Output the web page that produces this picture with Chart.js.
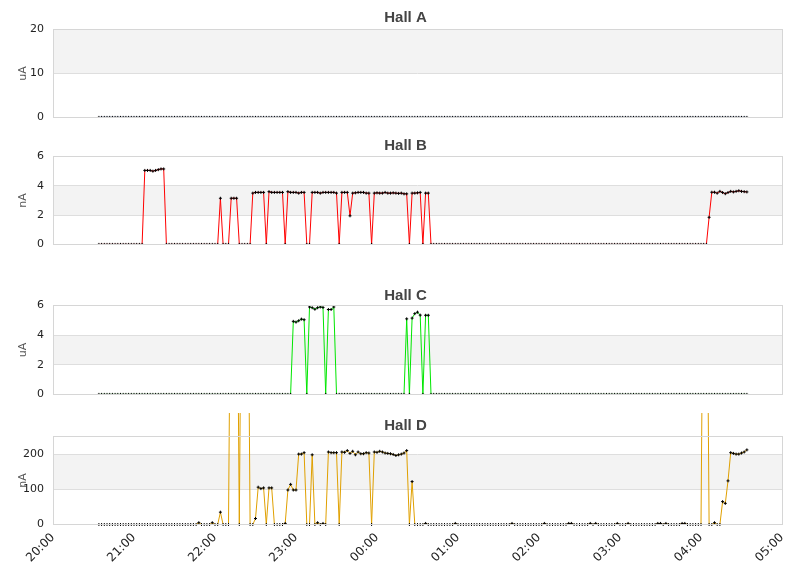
<!DOCTYPE html>
<html>
<head>
<meta charset="utf-8">
<title>Hall A-D</title>
<script src="https://cdn.jsdelivr.net/npm/chart.js@4.4.1/dist/chart.umd.min.js"></script>
<style>
  html, body { margin: 0; padding: 0; background: #fff; }
  #wrap { position: relative; width: 811px; height: 578px; overflow: hidden; }
  .box { position: absolute; left: 0; width: 811px; }
</style>
</head>
<body>
<div id="wrap">
  <div class="box" style="top:0;height:133px"><canvas id="hallA"></canvas></div>
  <div class="box" style="top:125px;height:135px"><canvas id="hallB"></canvas></div>
  <div class="box" style="top:252px;height:158px"><canvas id="hallC"></canvas></div>
  <div class="box" style="top:413px;height:165px"><canvas id="hallD"></canvas></div>
</div>
<script>
// ==============================
//  data (one sample every 2 min, starting 20:34)
// ==============================
const startMinute = 34;   // minutes after 20:00
const stepMinute = 2;
const hourLabels = ["20:00", "21:00", "22:00", "23:00", "00:00", "01:00", "02:00", "03:00", "04:00", "05:00"];

const hallA = [
  0,0,0,0,0,0,0,0,0,0, 0,0,0,0,0,0,0,0,0,0, 0,0,0,0,0,0,0,0,0,0,
  0,0,0,0,0,0,0,0,0,0, 0,0,0,0,0,0,0,0,0,0, 0,0,0,0,0,0,0,0,0,0,
  0,0,0,0,0,0,0,0,0,0, 0,0,0,0,0,0,0,0,0,0, 0,0,0,0,0,0,0,0,0,0,
  0,0,0,0,0,0,0,0,0,0, 0,0,0,0,0,0,0,0,0,0, 0,0,0,0,0,0,0,0,0,0,
  0,0,0,0,0,0,0,0,0,0, 0,0,0,0,0,0,0,0,0,0, 0,0,0,0,0,0,0,0,0,0,
  0,0,0,0,0,0,0,0,0,0, 0,0,0,0,0,0,0,0,0,0, 0,0,0,0,0,0,0,0,0,0,
  0,0,0,0,0,0,0,0,0,0, 0,0,0,0,0,0,0,0,0,0, 0,0,0,0,0,0,0,0,0,0,
  0,0,0,0,0,0,0,0,0,0, 0,0,0,0,0,0,0,0,0,0, 0,0,0,0,0,0,0,0,0,0,
  0
];

const hallB = [
  0,0,0,0,0,0,0,0,0,0,
  0,0,0,0,0,0,0,5.05,5.05,5.05,
  5.0,5.05,5.1,5.15,5.15,0,0,0,0,0,
  0,0,0,0,0,0,0,0,0,0,
  0,0,0,0,0,3.15,0,0,0,3.15,
  3.15,3.15,0,0,0,0,0,3.5,3.55,3.55,
  3.55,3.55,0,3.6,3.55,3.55,3.55,3.55,3.55,0,
  3.6,3.55,3.55,3.55,3.5,3.55,3.55,0,0,3.55,
  3.55,3.55,3.5,3.55,3.55,3.55,3.55,3.55,3.5,0,
  3.55,3.55,3.55,1.95,3.5,3.52,3.55,3.55,3.55,3.5,
  3.5,0,3.5,3.52,3.5,3.5,3.55,3.5,3.5,3.52,
  3.5,3.48,3.5,3.45,3.45,0,3.5,3.5,3.52,3.55,
  0,3.5,3.5,0,0,0,0,0,0,0,
  0,0,0,0,0,0,0,0,0,0,
  0,0,0,0,0,0,0,0,0,0,
  0,0,0,0,0,0,0,0,0,0,
  0,0,0,0,0,0,0,0,0,0,
  0,0,0,0,0,0,0,0,0,0,
  0,0,0,0,0,0,0,0,0,0,
  0,0,0,0,0,0,0,0,0,0,
  0,0,0,0,0,0,0,0,0,0,
  0,0,0,0,0,0,0,0,0,0,
  0,0,0,0,0,0,1.85,3.56,3.56,3.5,
  3.62,3.54,3.46,3.54,3.62,3.58,3.62,3.66,3.62,3.6,
  3.58
];

const hallC = [
  0,0,0,0,0,0,0,0,0,0,
  0,0,0,0,0,0,0,0,0,0,
  0,0,0,0,0,0,0,0,0,0,
  0,0,0,0,0,0,0,0,0,0,
  0,0,0,0,0,0,0,0,0,0,
  0,0,0,0,0,0,0,0,0,0,
  0,0,0,0,0,0,0,0,0,0,
  0,0,4.93,4.88,4.97,5.08,5.04,0,5.9,5.85,
  5.75,5.85,5.9,5.87,0,5.73,5.73,5.9,0,0,
  0,0,0,0,0,0,0,0,0,0,
  0,0,0,0,0,0,0,0,0,0,
  0,0,0,0,5.1,0,5.15,5.45,5.55,5.35,
  0,5.34,5.34,0,0,0,0,0,0,0,
  0,0,0,0,0,0,0,0,0,0,
  0,0,0,0,0,0,0,0,0,0,
  0,0,0,0,0,0,0,0,0,0,
  0,0,0,0,0,0,0,0,0,0,
  0,0,0,0,0,0,0,0,0,0,
  0,0,0,0,0,0,0,0,0,0,
  0,0,0,0,0,0,0,0,0,0,
  0,0,0,0,0,0,0,0,0,0,
  0,0,0,0,0,0,0,0,0,0,
  0,0,0,0,0,0,0,0,0,0,
  0,0,0,0,0,0,0,0,0,0,
  0
];

const hallD = [
  0,0,0,0,0,0,0,0,0,0,
  0,0,0,0,0,0,0,0,0,0,
  0,0,0,0,0,0,0,0,0,0,
  0,0,0,0,0,0,0,5,0,0,
  0,0,5,0,0,35,0,0,0,1000,
  1000,1000,0,1000,1000,1000,0,0,17,106,
  102,104,0,104,104,0,0,0,0,3,
  98,114,98,98,200,200,204,0,0,198,
  0,5,0,3,0,206,204,204,204,0,
  206,205,210,202,208,198,206,201,201,204,
  203,0,206,205,208,206,203,202,201,199,
  196,198,200,203,210,0,122,0,0,0,
  0,3,0,0,0,0,0,0,0,0,
  0,0,3,0,0,0,0,0,0,0,
  0,0,0,0,0,0,0,0,0,0,
  0,0,0,3,0,0,0,0,0,0,
  0,0,0,0,0,3,0,0,0,0,
  0,0,0,0,3,3,0,0,0,0,
  0,0,3,0,3,0,0,0,0,0,
  0,0,3,0,0,0,3,0,0,0,
  0,0,0,0,0,0,0,3,3,0,
  3,0,0,0,0,0,3,3,0,0,
  0,0,0,0,1000,1000,0,0,5,0,
  0,65,60,124,204,202,200,200,203,206,
  212
];


// ==============================
//  shared style
// ==============================
Chart.defaults.font.family = "'DejaVu Sans', sans-serif";
Chart.defaults.font.size = 11;
Chart.defaults.color = "#222";

const toPoints = values => values.map((v, i) => ({ x: startMinute + i * stepMinute, y: v }));

// grey band on every second tick interval + light frame drawn over the data
const bandsAndFrame = {
  id: "bandsAndFrame",
  beforeDraw(chart) {
    const { ctx, chartArea: a } = chart;
    const y = chart.scales.y;
    const vals = y.ticks.map(t => t.value);
    if (vals[vals.length - 1] < y.max) vals.push(y.max);
    ctx.save();
    ctx.fillStyle = "#f3f3f3";
    for (let k = 1; k < vals.length - 1; k += 2) {
      const top = y.getPixelForValue(vals[k + 1]);
      const bottom = y.getPixelForValue(vals[k]);
      ctx.fillRect(a.left, top, a.right - a.left, bottom - top);
    }
    ctx.restore();
  },
  afterDatasetsDraw(chart) {
    const { ctx, chartArea: a } = chart;
    const l = Math.floor(a.left) + 0.5, r = Math.floor(a.right) + 0.5;
    const t = Math.floor(a.top) + 0.5, b = Math.floor(a.bottom) + 0.5;
    ctx.save();
    ctx.strokeStyle = "#d6d6d6";
    ctx.lineWidth = 1;
    ctx.strokeRect(l, t, r - l, b - t);
    ctx.restore();
  }
};

function makeHall({ id, title, unit, values, color, yMax, yStep, titlePad, showX = false, clip }) {
  return new Chart(document.getElementById(id), {
    type: "line",
    data: {
      datasets: [{
        data: toPoints(values),
        borderColor: color,
        borderWidth: 1,
        pointStyle: "cross",
        pointRadius: 1.5,
        pointHoverRadius: 1.5,
        pointBorderColor: "#000",
        pointBorderWidth: 1,
        tension: 0,
        clip: clip
      }]
    },
    options: {
      responsive: true,
      maintainAspectRatio: false,
      animation: false,
      events: [],
      layout: { padding: { left: 0, right: 0, top: 0, bottom: showX ? 0 : 7.5 } },
      plugins: {
        legend: { display: false },
        tooltip: { enabled: false },
        title: {
          display: true,
          text: title,
          color: "#444",
          font: { family: "'Liberation Sans', Arial, sans-serif", size: 15, weight: "bold" },
          padding: titlePad
        }
      },
      scales: {
        x: {
          type: "linear",
          min: 0,
          max: 540,
          display: showX,
          grid: { display: false, drawTicks: false },
          border: { display: false },
          ticks: {
            stepSize: 60,
            minRotation: 45,
            maxRotation: 45,
            padding: 6,
            color: "#222",
            font: { size: 12 },
            callback: v => hourLabels[Math.round(v / 60)]
          },
          // only the bottom chart keeps room for the time labels
          afterFit: s => { s.height = showX ? 53.5 : 0; }
        },
        y: {
          min: 0,
          max: yMax,
          grid: { color: "#dedede", drawTicks: false },
          border: { display: false },
          ticks: { stepSize: yStep, includeBounds: false, padding: 9, color: "#222" },
          title: { display: true, text: unit, color: "#555", padding: { top: 17, bottom: 0 } },
          afterFit: s => { s.width = 53; }
        },
        yr: {
          position: "right",
          grid: { display: false, drawTicks: false },
          border: { display: false },
          ticks: { display: false },
          afterFit: s => { s.width = 29; }
        }
      }
    },
    plugins: [bandsAndFrame]
  });
}


// ==============================
//  charts
// ==============================
makeHall({ id: "hallA", title: "Hall A", unit: "uA", values: hallA, color: "#3366cc",
  yMax: 20, yStep: 10, titlePad: { top: 9, bottom: 2.5 } });

makeHall({ id: "hallB", title: "Hall B", unit: "nA", values: hallB, color: "#ff0000",
  yMax: 6, yStep: 2, titlePad: { top: 12, bottom: 1.5 } });

makeHall({ id: "hallC", title: "Hall C", unit: "uA", values: hallC, color: "#00e600",
  yMax: 6, yStep: 2, titlePad: { top: 35, bottom: 0.5 } });

makeHall({ id: "hallD", title: "Hall D", unit: "nA", values: hallD, color: "#e0a000",
  yMax: 250, yStep: 100, titlePad: { top: 4, bottom: 1.5 }, showX: true, clip: false });
</script>
</body>
</html>
